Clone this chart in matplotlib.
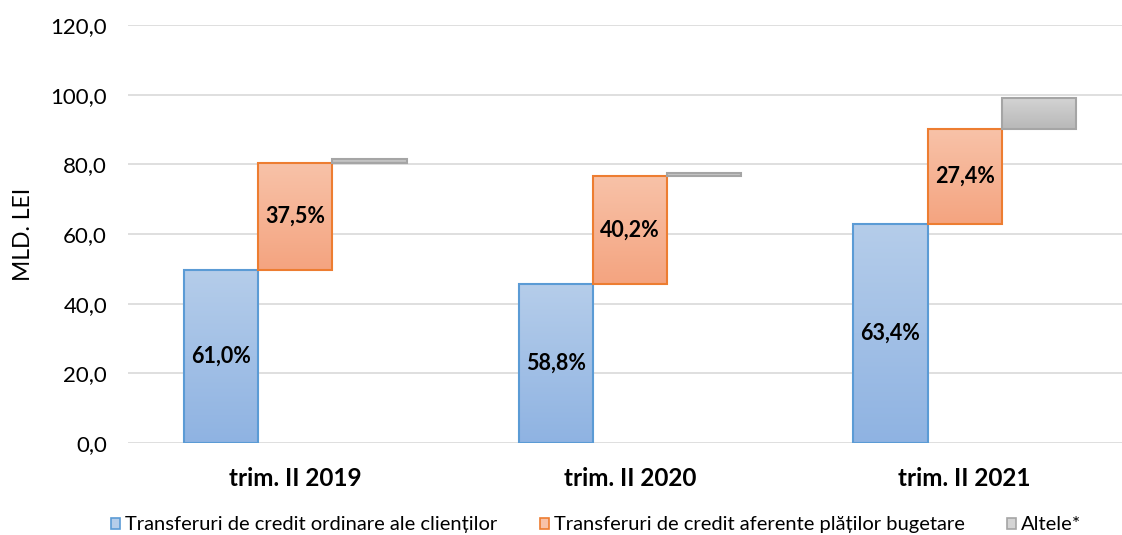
import numpy as np
import matplotlib.pyplot as plt
from matplotlib.patches import Patch
from matplotlib.colors import LinearSegmentedColormap
from matplotlib.ticker import FuncFormatter

plt.rcParams['font.family'] = ['Lato', 'DejaVu Sans']

# --- date ---
categorii = ['trim. II 2019', 'trim. II 2020', 'trim. II 2021']
ordinare = [49.7, 45.6, 62.9]      # mld. lei
bugetare = [30.6, 31.2, 27.2]
altele = [1.2, 0.8, 9.1]
etichete_ord = ['61,0%', '58,8%', '63,4%']
etichete_bug = ['37,5%', '40,2%', '27,4%']
serii = ['Transferuri de credit ordinare ale clienților',
         'Transferuri de credit aferente plăților bugetare',
         'Altele*']

# --- stil ---
W = 0.222
culori = [('#b5cdea', '#8fb3e2', '#5b9bd5'),
          ('#f8c2a8', '#f4a480', '#ed7d31'),
          ('#d4d4d4', '#b8b8b8', '#a5a5a5')]


def bara_gradient(ax, x, jos, h, sus_c, jos_c, margine):
    b = ax.bar(x, h, W, bottom=jos, facecolor='none', edgecolor=margine,
               linewidth=1.5, zorder=3)[0]
    cmap = LinearSegmentedColormap.from_list('g', [jos_c, sus_c])
    grad = np.linspace(0, 1, 100).reshape(-1, 1)
    im = ax.imshow(grad, cmap=cmap, aspect='auto', origin='lower',
                   extent=[x - W / 2, x + W / 2, jos, jos + h], zorder=2)
    im.set_clip_path(b)


fig = plt.figure(figsize=(11.22, 5.35), dpi=100)
ax = fig.add_axes([0.114, 0.172, 0.886, 0.781])

x = np.arange(len(categorii))
for i in x:
    bara_gradient(ax, i - W, 0, ordinare[i], *culori[0])
    bara_gradient(ax, i, ordinare[i], bugetare[i], *culori[1])
    bara_gradient(ax, i + W, ordinare[i] + bugetare[i], altele[i], *culori[2])
    ax.text(i - W, ordinare[i] / 2, etichete_ord[i], ha='center', va='center',
            fontsize=15.5, fontweight='bold', zorder=4)
    ax.text(i, ordinare[i] + bugetare[i] / 2, etichete_bug[i], ha='center',
            va='center', fontsize=15.5, fontweight='bold', zorder=4)

ax.set_xlim(-0.5, 2.47)
ax.set_ylim(0, 120)
ax.set_yticks(np.arange(0, 121, 20))
ax.yaxis.set_major_formatter(FuncFormatter(lambda v, p: f'{v:.1f}'.replace('.', ',')))
ax.set_xticks(x)
ax.set_xticklabels(categorii, fontsize=17.5, fontweight='bold')
ax.tick_params(axis='y', labelsize=16, length=0, pad=15)
ax.tick_params(axis='x', length=0, pad=17)
ax.grid(axis='y', color='#d9d9d9', linewidth=1.2, zorder=0)
ax.set_axisbelow(True)
for s in ax.spines.values():
    s.set_visible(False)
ax.set_ylabel('MLD. LEI', fontsize=16.5, labelpad=12)

handles = [Patch(facecolor=c[0], edgecolor=c[2], linewidth=1.2) for c in culori]
fig.legend(handles, serii, loc='lower left', bbox_to_anchor=(0.083, -0.031),
           ncol=3, frameon=False, fontsize=14.5, handlelength=0.45,
           handleheight=0.45, handletextpad=0.25, columnspacing=2.1)

fig.savefig('out.png', dpi=100)
